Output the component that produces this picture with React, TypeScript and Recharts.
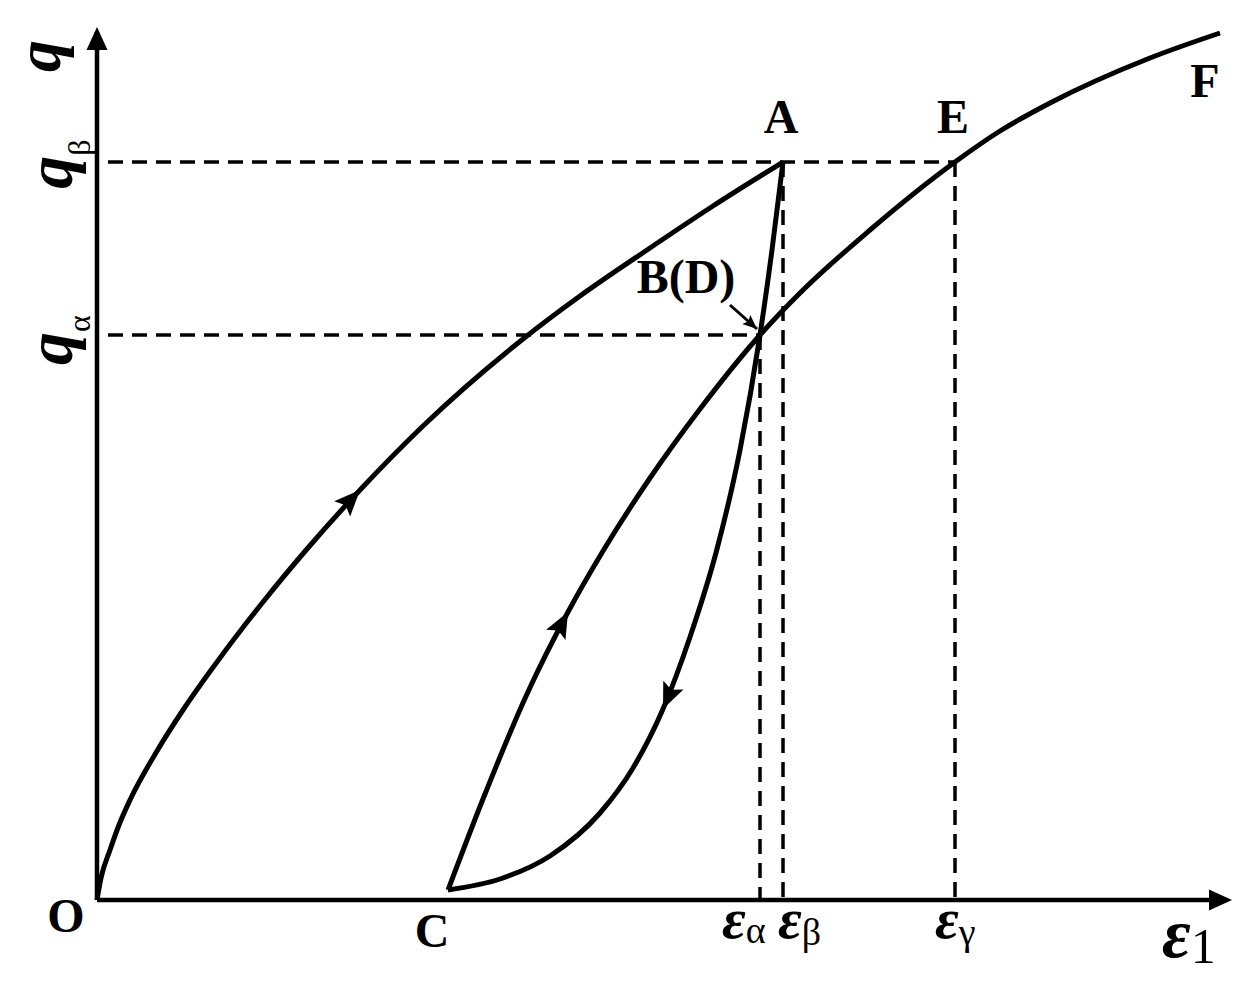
import { ComposedChart, Line, Scatter, XAxis, YAxis, ReferenceLine } from 'recharts'

// q–ε1 curves (arbitrary units: 1 unit ≈ 100 px)
const loadingOA = [
  { x: 0, y: 0 },
  { x: 0.04, y: 0.22 },
  { x: 0.13, y: 0.5 },
  { x: 0.22, y: 0.75 },
  { x: 0.33, y: 1.0 },
  { x: 0.6, y: 1.49 },
  { x: 0.86, y: 1.9 },
  { x: 1.2, y: 2.38 },
  { x: 1.66, y: 2.98 },
  { x: 2.1, y: 3.51 },
  { x: 2.63, y: 4.1 },
  { x: 3.26, y: 4.74 },
  { x: 4.26, y: 5.61 },
  { x: 4.83, y: 6.04 },
  { x: 5.5, y: 6.5 },
  { x: 6.16, y: 6.94 },
  { x: 6.86, y: 7.38 },
]

// unloading A -> B -> C, stored left to right (C first)
const unloadingAC = [
  { x: 3.51, y: 0.1 },
  { x: 4.03, y: 0.21 },
  { x: 4.53, y: 0.44 },
  { x: 5.03, y: 0.87 },
  { x: 5.36, y: 1.32 },
  { x: 5.66, y: 1.91 },
  { x: 5.93, y: 2.63 },
  { x: 6.2, y: 3.51 },
  { x: 6.43, y: 4.5 },
  { x: 6.63, y: 5.65 },
  { x: 6.75, y: 6.5 },
  { x: 6.86, y: 7.38 },
]

// reloading C -> D -> E -> F
const reloadingCF = [
  { x: 3.51, y: 0.1 },
  { x: 3.86, y: 1.01 },
  { x: 4.3, y: 2.06 },
  { x: 4.71, y: 2.88 },
  { x: 5.06, y: 3.49 },
  { x: 5.53, y: 4.22 },
  { x: 6.03, y: 4.91 },
  { x: 6.63, y: 5.65 },
  { x: 7.03, y: 6.07 },
  { x: 7.73, y: 6.7 },
  { x: 8.58, y: 7.38 },
  { x: 9.03, y: 7.69 },
  { x: 9.53, y: 7.97 },
  { x: 10.53, y: 8.42 },
  { x: 11.23, y: 8.67 },
]

// little pointer from the B(D) label to the crossing
const leaderBD = [
  { x: 6.33, y: 5.95 },
  { x: 6.6, y: 5.71 },
]

const qAlpha = 5.65
const qBeta = 7.38
const epsAlpha = 6.63
const epsBeta = 6.86
const epsGamma = 8.58
const X_MAX = 11.3
const Y_MAX = 8.68

const xTicks = [epsAlpha, epsBeta, epsGamma, X_MAX]
const xTickLabels = [
  ['ε', 'α'],
  ['ε', 'β'],
  ['ε', 'γ'],
  ['ε', '1'],
]
const yTicks = [qAlpha, qBeta, Y_MAX]
const yTickLabels = [
  ['q', 'α'],
  ['q', 'β'],
  ['q', ''],
]

const pointLabels = [
  { name: 'O', x: 0, y: 0 },
  { name: 'C', x: 3.51, y: 0.1 },
  { name: 'A', x: epsBeta, y: qBeta },
  { name: 'B(D)', x: epsAlpha, y: qAlpha },
  { name: 'E', x: epsGamma, y: qBeta },
  { name: 'F', x: 11.23, y: 8.67 },
]

const xTip = [{ x: X_MAX, y: 0 }]
const yTip = [{ x: 0, y: Y_MAX }]

const FONT = '"Liberation Serif", "Times New Roman", serif'
const PLOT_BOTTOM = 900
const PLOT_LEFT = 97

const labelOffset: Record<string, [number, number]> = {
  O: [-31, 32],
  C: [-16, 57],
  A: [-2, -29],
  'B(D)': [-74, -42],
  E: [-2, -29],
  F: [-15, 64],
}

// x tick label layout: start offset, baseline below axis, main / sub font size, sub shift
const xTickStyle = [
  { dx: -38, dy: 38, fs: 58, sub: 38, sdy: 5 },
  { dx: -5, dy: 38, fs: 58, sub: 38, sdy: 7 },
  { dx: -20, dy: 38, fs: 58, sub: 38, sdy: 7 },
  { dx: -65, dy: 57, fs: 70, sub: 50, sdy: 6 },
]
const yTickStyle = [
  { bx: 72, dc: 5, fs: 66 },
  { bx: 72, dc: 2, fs: 66 },
  { bx: 60, dc: 24, fs: 64 },
]

const ARROW = 'M0,0 L-26,-11 L-21,0 L-26,11 Z'

const arrowDot = (at: number, backwards = false, scale = 1) => (props: any) => {
  const { cx, cy, index, points } = props
  if (index !== at || !points) return <g key={`d-${index}`} />
  const prev = points[Math.max(0, index - 1)]
  const next = points[Math.min(points.length - 1, index + 1)]
  let ang = (Math.atan2(next.y - prev.y, next.x - prev.x) * 180) / Math.PI
  if (backwards) ang += 180
  return (
    <path
      key={`d-${index}`}
      d={ARROW}
      fill="#000"
      stroke="none"
      transform={`translate(${cx},${cy}) rotate(${ang}) scale(${scale})`}
    />
  )
}

const XTick = (props: any) => {
  const { payload } = props
  const i = xTicks.indexOf(payload.value)
  if (i < 0) return <g />
  const s = xTickStyle[i]
  const [main, sub] = xTickLabels[i]
  return (
    <text x={payload.coordinate + s.dx} y={PLOT_BOTTOM + s.dy} fontFamily={FONT} fill="#000" textAnchor="start">
      <tspan fontSize={s.fs} fontWeight="bold" fontStyle="italic">{main}</tspan>
      <tspan fontSize={s.sub} dy={s.sdy}>{sub}</tspan>
    </text>
  )
}

const YTick = (props: any) => {
  const { payload } = props
  const i = yTicks.indexOf(payload.value)
  if (i < 0) return <g />
  const s = yTickStyle[i]
  const [main, sub] = yTickLabels[i]
  const cy = payload.coordinate + s.dc
  return (
    <text
      x={s.bx}
      y={cy}
      transform={`rotate(-90, ${s.bx}, ${cy})`}
      fontFamily={FONT}
      fill="#000"
      textAnchor="middle"
    >
      <tspan fontSize={s.fs} fontWeight="bold" fontStyle="italic">{main}</tspan>
      {sub && <tspan fontSize={32} dy={18}>{sub}</tspan>}
    </text>
  )
}

const PointLabel = (props: any) => {
  const { cx, cy, payload } = props
  const [dx, dy] = labelOffset[payload.name]
  return (
    <text x={cx + dx} y={cy + dy} fontFamily={FONT} fontWeight="bold" fontSize={48} textAnchor="middle" fill="#000">
      {payload.name}
    </text>
  )
}

const XTipShape = (props: any) => {
  const { cx, cy } = props
  return <path d={`M${cx + 5},${cy} L${cx - 18},${cy - 10.5} L${cx - 18},${cy + 10.5} Z`} fill="#000" />
}

const YTipShape = (props: any) => {
  const { cx, cy } = props
  return <path d={`M${cx},${cy - 5} L${cx - 10.5},${cy + 18} L${cx + 10.5},${cy + 18} Z`} fill="#000" />
}

const dash = { stroke: '#000', strokeWidth: 3.5, strokeDasharray: '15 9' }
const curve = { stroke: '#000', strokeWidth: 5, activeDot: false, isAnimationActive: false }

export default function App() {
  return (
    <div style={{ position: 'absolute', left: 0, top: 0 }}>
      <ComposedChart width={1253} height={987} margin={{ top: 32, right: 26, bottom: 0, left: 0 }}>
        <XAxis
          type="number"
          dataKey="x"
          domain={[0, X_MAX]}
          ticks={xTicks}
          tick={XTick}
          tickLine={false}
          axisLine={{ stroke: '#000', strokeWidth: 4.5 }}
          height={987 - PLOT_BOTTOM}
          interval={0}
        />
        <YAxis
          type="number"
          dataKey="y"
          domain={[0, Y_MAX]}
          ticks={yTicks}
          tick={YTick}
          tickLine={false}
          axisLine={{ stroke: '#000', strokeWidth: 4.5 }}
          width={PLOT_LEFT}
          interval={0}
        />

        <ReferenceLine segment={[{ x: 0.11, y: qBeta }, { x: epsGamma, y: qBeta }]} {...dash} />
        <ReferenceLine segment={[{ x: 0.11, y: qAlpha }, { x: epsAlpha, y: qAlpha }]} {...dash} />
        <ReferenceLine segment={[{ x: epsAlpha, y: qAlpha }, { x: epsAlpha, y: 0 }]} {...dash} />
        <ReferenceLine segment={[{ x: epsBeta, y: qBeta }, { x: epsBeta, y: 0 }]} {...dash} />
        <ReferenceLine segment={[{ x: epsGamma, y: qBeta }, { x: epsGamma, y: 0 }]} {...dash} />

        <Line data={loadingOA} dataKey="y" type="monotoneX" {...curve} dot={arrowDot(10)} />
        <Line data={unloadingAC} dataKey="y" type="monotoneX" {...curve} dot={arrowDot(5, true)} />
        <Line data={reloadingCF} dataKey="y" type="monotoneX" {...curve} dot={arrowDot(3)} />
        <Line data={leaderBD} dataKey="y" type="linear" stroke="#000" strokeWidth={3}
          dot={arrowDot(1, false, 0.55)} activeDot={false} isAnimationActive={false} />

        <Scatter data={xTip} dataKey="y" shape={XTipShape} isAnimationActive={false} />
        <Scatter data={yTip} dataKey="y" shape={YTipShape} isAnimationActive={false} />
        <Scatter data={pointLabels} dataKey="y" shape={PointLabel} isAnimationActive={false} />
      </ComposedChart>
    </div>
  )
}
